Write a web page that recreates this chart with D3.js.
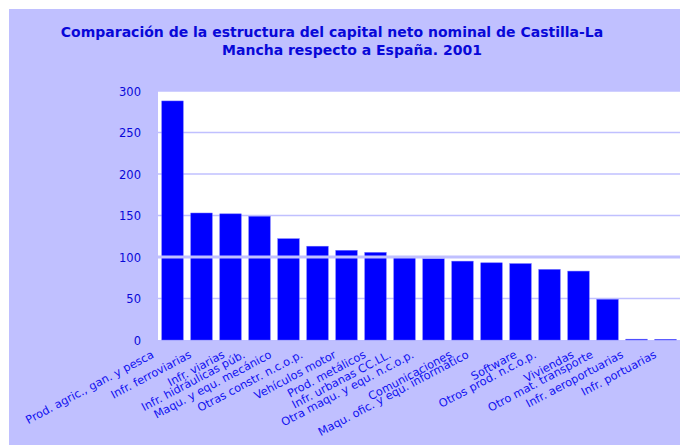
<!DOCTYPE html>
<html>
<head>
<meta charset="utf-8">
<script src="https://cdn.jsdelivr.net/npm/d3@7/dist/d3.min.js"></script>
<style>
  body { margin: 0; background: #ffffff; }
  svg text { font-family: "DejaVu Sans", Verdana, sans-serif; }
</style>
</head>
<body>
<div id="chart"></div>
<script>
// data
var categories = [
    "Prod. agric., gan. y pesca", "Infr. ferroviarias", "Infr. viarias",
    "Infr. hidráulicas púb.", "Maqu. y equ. mecánico", "Otras constr. n.c.o.p.",
    "Vehículos motor", "Prod. metálicos", "Infr. urbanas CC.LL.",
    "Otra maqu. y equ.  n.c.o.p.", "Comunicaciones", "Maqu. ofic. y equ. informático",
    "Software", "Otros prod. n.c.o.p.", "Viviendas", "Otro mat. transporte",
    "Infr. aeroportuarias", "Infr. portuarias"
];
var values = [288, 153, 152, 149, 122, 113, 108, 105.5, 99, 98, 95, 93, 92, 85, 83, 49, 1, 0.8];
var yTicks = [0, 50, 100, 150, 200, 250, 300];
var titleLines = [
    "Comparación de la estructura del capital neto nominal de Castilla-La",
    "Mancha respecto a España. 2001"
];
var referenceValue = 100;

var W = 680, H = 447;
var plot = { left: 158, right: 680, top: 91, bottom: 340 };

var svg = d3.select("#chart")
    .append("svg")
    .attr("width", W)
    .attr("height", H);

// lavender frame
svg.append("rect")
    .attr("x", 9).attr("y", 9)
    .attr("width", W - 9).attr("height", H - 11)
    .attr("fill", "#c0c0ff");

// title
svg.selectAll(".title")
    .data(titleLines)
    .enter()
    .append("text")
    .attr("class", "title")
    .attr("x", function (d, i) { return i == 0 ? 332 : 352; })
    .attr("y", function (d, i) { return 37 + i * 18; })
    .attr("text-anchor", "middle")
    .attr("font-size", "14px")
    .attr("font-weight", "bold")
    .attr("fill", "#0808d8")
    .text(function (d) { return d; });

// plot area
svg.append("rect")
    .attr("x", plot.left).attr("y", plot.top)
    .attr("width", plot.right - plot.left).attr("height", plot.bottom - plot.top)
    .attr("fill", "#ffffff");

var x = d3.scaleBand()
    .domain(categories)
    .range([plot.left, plot.right])
    .paddingInner(0.26)
    .paddingOuter(0.13);

var y = d3.scaleLinear()
    .domain([0, 300])
    .range([plot.bottom, plot.top]);

// gridlines
svg.append("g")
    .selectAll("line")
    .data(yTicks.filter(function (d) { return d > 0; }))
    .enter()
    .append("line")
    .attr("x1", plot.left).attr("x2", plot.right)
    .attr("y1", function (d) { return y(d); })
    .attr("y2", function (d) { return y(d); })
    .attr("stroke", "#c0c0ff")
    .attr("stroke-width", 1.5);

// bars
svg.append("g")
    .selectAll("rect")
    .data(values)
    .enter()
    .append("rect")
    .attr("x", function (d, i) { return x(categories[i]); })
    .attr("y", function (d) { return y(d); })
    .attr("width", x.bandwidth())
    .attr("height", function (d) { return plot.bottom - y(d); })
    .attr("fill", "#0000ff")
    .attr("stroke", "#6060ff")
    .attr("stroke-width", 0.5);

// reference line at 100, drawn over the bars
svg.append("line")
    .attr("x1", plot.left).attr("x2", plot.right)
    .attr("y1", y(referenceValue)).attr("y2", y(referenceValue))
    .attr("stroke", "#c0c0ff")
    .attr("stroke-width", 3);

// y axis
var yAxis = svg.append("g")
    .attr("transform", "translate(" + (plot.left - 17) + ",0)")
    .call(d3.axisLeft(y).tickValues(yTicks).tickSize(0).tickPadding(0));
yAxis.select(".domain").remove();
yAxis.selectAll("text")
    .attr("font-size", "11.5px")
    .attr("font-family", "DejaVu Sans, sans-serif")
    .attr("fill", "#0808d8")
    .attr("dy", "0.35em");

// category labels, rotated
var angle = -28;
var labels = svg.append("g")
    .selectAll("text")
    .data(categories)
    .enter()
    .append("text")
    .attr("font-size", "11.3px")
    .attr("fill", "#1010f0")
    .attr("text-anchor", "end")
    .text(function (d) { return d; });

labels.each(function (d) {
    var len = this.getComputedTextLength();
    var cx = x(d) + x.bandwidth() / 2 + 5 - 0.16 * len;
    d3.select(this).attr("transform", "translate(" + cx + ",357) rotate(" + angle + ")");
});
</script>
</body>
</html>
